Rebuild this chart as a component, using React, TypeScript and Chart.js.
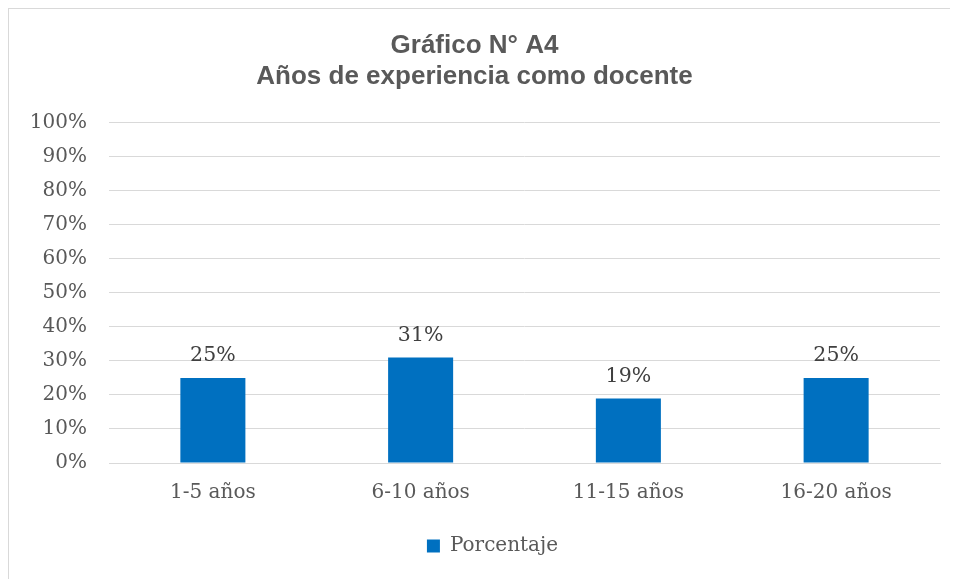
import React, { useEffect, useRef } from "react";
import { Chart, registerables } from "chart.js";

Chart.register(...registerables);

const titleLines = ["Gráfico N° A4", "Años de experiencia como docente"];
const categories = ["1-5 años", "6-10 años", "11-15 años", "16-20 años"];
const seriesName = "Porcentaje";
const values = [25, 31, 19, 25];
const yTicksMax = 100;
const yTickStep = 10;

const SERIF = "'DejaVu Serif', serif";
const SANS = "'Liberation Sans', Arial, sans-serif";

const valueLabels = {
  id: "valueLabels",
  afterDatasetsDraw(chart: any) {
    const { ctx } = chart;
    const meta = chart.getDatasetMeta(0);
    ctx.save();
    ctx.font = `20.5px ${SERIF}`;
    ctx.fillStyle = "#404040";
    ctx.textAlign = "center";
    ctx.textBaseline = "middle";
    meta.data.forEach((el: any, i: number) => {
      const v = chart.data.datasets[0].data[i];
      ctx.fillText(`${v}%`, el.x, el.y - 22);
    });
    ctx.restore();
  },
};

const legendShift = {
  id: "legendShift",
  afterLayout(chart: any) {
    if (chart.legend) {
      chart.legend.left += 36;
    }
  },
};

export default function App() {
  const ref = useRef<HTMLCanvasElement>(null);
  useEffect(() => {
    if (!ref.current) return;
    const chart = new Chart(ref.current, {
      type: "bar",
      data: {
        labels: categories,
        datasets: [
          {
            label: seriesName,
            data: values,
            backgroundColor: "#0070c0",
            borderWidth: 0,
            barPercentage: 0.313,
            categoryPercentage: 1,
          },
        ],
      },
      options: {
        responsive: false,
        animation: false,
        layout: { padding: { left: 0, right: 18, top: 0, bottom: 13 } },
        plugins: {
          title: {
            display: true,
            text: titleLines,
            color: "#595959",
            font: { family: SANS, size: 26, weight: "bold", lineHeight: 1.19 },
            padding: { top: 21, bottom: 31 },
          },
          legend: {
            display: true,
            position: "bottom",
            labels: {
              color: "#595959",
              font: { family: SERIF, size: 20 },
              boxWidth: 13,
              boxHeight: 13,
              padding: 10,
            },
          },
          tooltip: { enabled: false },
        },
        scales: {
          x: {
            grid: { display: false, drawTicks: false },
            border: { display: true, color: "#d9d9d9", width: 1 },
            ticks: {
              color: "#595959",
              font: { family: SERIF, size: 20 },
              padding: 18,
              maxRotation: 0,
            },
            afterFit: (scale: any) => {
              scale.height = 63;
            },
          },
          y: {
            min: 0,
            max: yTicksMax,
            grid: { color: "#d9d9d9", lineWidth: 1, drawTicks: false },
            border: { display: false },
            ticks: {
              stepSize: yTickStep,
              color: "#595959",
              font: { family: SERIF, size: 20 },
              padding: 22,
              callback: (v: any) => `${v}%`,
            },
            afterFit: (scale: any) => {
              scale.width = 100;
            },
          },
        },
      },
      plugins: [valueLabels, legendShift],
    });
    return () => chart.destroy();
  }, []);

  return (
    <div
      style={{
        position: "relative",
        width: 950,
        height: 571,
        borderLeft: "1px solid #d9d9d9",
        borderTop: "1px solid #d9d9d9",
        boxSizing: "border-box",
      }}
    >
      <canvas ref={ref} width={949} height={570} style={{ display: "block" }} />
    </div>
  );
}
